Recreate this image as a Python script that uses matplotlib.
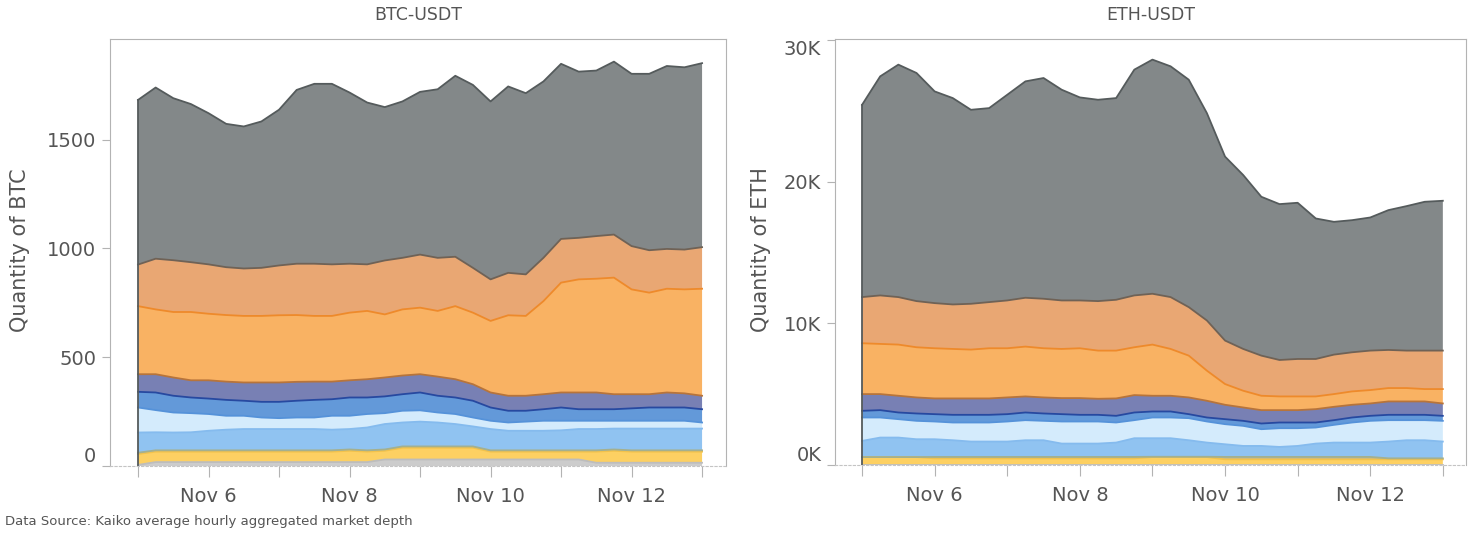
import matplotlib
matplotlib.use('Agg')
import matplotlib.pyplot as plt
import numpy as np
import pandas as pd

# hourly depth sampled every 6h, Nov 5 00:00 -> Nov 13 00:00
hours = np.arange(0, 193, 6)
start = pd.Timestamp('2022-11-05')
times = start + pd.to_timedelta(hours, unit='h')

# BTC-USDT: stacked boundaries, bottom layer first
btc_b1 = [5, 18, 18, 18, 18, 18, 18, 18, 18, 18, 18, 18, 18, 18, 30, 30, 30,
          30, 30, 30, 30, 30, 30, 30, 30, 30, 15, 15, 15, 15, 15, 15, 15]
btc_b2 = [55, 66, 66, 66, 66, 66, 66, 66, 66, 66, 66, 66, 70, 66, 70, 84, 84,
          84, 84, 84, 66, 66, 66, 66, 66, 66, 66, 70, 66, 66, 66, 66, 66]
btc_b3 = [61, 72, 72, 72, 72, 72, 72, 72, 72, 72, 72, 72, 76, 72, 76, 90, 90,
          90, 90, 90, 72, 72, 72, 72, 72, 72, 72, 76, 72, 72, 72, 72, 72]
btc_b4 = [154, 155, 154, 155, 162, 167, 170, 170, 170, 170, 170, 167, 170, 177, 193, 200, 204,
          200, 193, 182, 170, 162, 162, 162, 164, 170, 170, 172, 172, 172, 172, 172, 172]
btc_b5 = [269, 257, 246, 243, 239, 231, 231, 223, 220, 223, 223, 231, 231, 239, 243, 254, 256,
          246, 239, 223, 208, 200, 204, 208, 208, 208, 208, 208, 208, 208, 208, 208, 200]
btc_b6 = [341, 338, 323, 315, 310, 304, 300, 295, 295, 300, 304, 307, 315, 315, 320, 330, 338,
          323, 315, 300, 269, 254, 254, 261, 269, 261, 261, 261, 265, 269, 269, 269, 261]
btc_b7 = [422, 422, 407, 394, 394, 388, 384, 384, 384, 387, 388, 388, 394, 399, 407, 416, 422,
          411, 399, 376, 338, 323, 323, 330, 338, 338, 338, 330, 330, 330, 338, 334, 323]
btc_b8 = [735, 720, 708, 708, 700, 694, 690, 690, 693, 694, 690, 690, 705, 713, 697, 720, 728,
          713, 735, 705, 667, 693, 690, 758, 843, 858, 861, 866, 812, 797, 815, 812, 815]
btc_b9 = [926, 953, 946, 937, 927, 914, 908, 911, 922, 930, 930, 927, 930, 927, 945, 957, 972,
          957, 962, 911, 858, 888, 881, 957, 1044, 1049, 1057, 1064, 1011, 992, 998, 995, 1006]
btc_b10 = [1683, 1740, 1691, 1664, 1622, 1573, 1561, 1584, 1638, 1729, 1757, 1757, 1717, 1671, 1650, 1676, 1720,
           1732, 1794, 1752, 1676, 1745, 1714, 1768, 1849, 1813, 1818, 1859, 1803, 1803, 1839, 1833, 1852]

# ETH-USDT
eth_b1 = [20] * 33
eth_b2 = [560, 560, 560, 560, 470, 470, 470, 470, 470, 470, 470, 470, 470, 470, 470, 470, 560,
          560, 560, 560, 400, 400, 400, 400, 400, 400, 400, 400, 400, 400, 400, 400, 400]
eth_b3 = [560, 560, 560, 560, 570, 570, 570, 570, 570, 570, 570, 570, 570, 570, 570, 570, 580,
          580, 580, 580, 570, 570, 570, 570, 570, 570, 570, 570, 570, 470, 470, 470, 470]
eth_b4 = [1702, 1938, 1938, 1820, 1820, 1749, 1655, 1655, 1655, 1749, 1749, 1513, 1513, 1513, 1584, 1891,
          1891, 1891, 1749, 1584, 1465, 1347, 1347, 1276, 1347, 1513, 1584, 1584, 1584, 1655, 1749, 1749, 1655]
eth_b5 = [3356, 3356, 3238, 3120, 3073, 3002, 3002, 3002, 3073, 3167, 3120, 3073, 3073, 3073, 3002, 3167,
          3356, 3356, 3309, 3073, 2884, 2765, 2529, 2600, 2600, 2647, 2836, 3002, 3120, 3167, 3167, 3167, 3120]
eth_b6 = [3829, 3876, 3710, 3640, 3592, 3545, 3545, 3545, 3592, 3710, 3640, 3592, 3545, 3545, 3474, 3710,
          3781, 3781, 3592, 3356, 3238, 3120, 2931, 3002, 3002, 3002, 3167, 3356, 3474, 3545, 3545, 3545, 3474]
eth_b7 = [5010, 5010, 4892, 4774, 4703, 4703, 4703, 4703, 4774, 4845, 4774, 4727, 4727, 4679, 4703, 4939,
          4892, 4892, 4774, 4538, 4254, 4065, 3876, 3876, 3876, 3947, 4112, 4254, 4348, 4490, 4490, 4490, 4348]
eth_b8 = [8603, 8555, 8508, 8319, 8248, 8200, 8154, 8248, 8248, 8366, 8248, 8200, 8248, 8083, 8083, 8319,
          8508, 8200, 7728, 6665, 5720, 5247, 4892, 4845, 4845, 4845, 5010, 5200, 5294, 5436, 5436, 5365, 5365]
eth_b9 = [11864, 11982, 11864, 11580, 11438, 11344, 11391, 11509, 11627, 11817, 11746, 11627, 11627, 11580, 11675, 11982,
          12100, 11864, 11155, 10210, 8792, 8200, 7728, 7420, 7491, 7491, 7799, 7964, 8083, 8130, 8083, 8083, 8083]
eth_b10 = [25450, 27462, 28289, 27700, 26398, 25926, 25099, 25217, 26162, 27107, 27344, 26517, 25973, 25808, 25926, 27935,
           28644, 28170, 27226, 24863, 21790, 20490, 18952, 18434, 18528, 17419, 17182, 17300, 17489, 18009, 18292, 18599, 18670]

fill_colors = ['#cccccc', '#fdd062', '#b4b8a6', '#90c3f1', '#d4ebfc',
               '#6399d9', '#7880b4', '#f9b263', '#e9a773', '#838889']
edge_colors = ['#bdbdbd', '#f2c24c', '#a4b08f', '#85bbee', '#5592d9',
               '#2749a0', '#b7743b', '#ee8a2b', '#6f6256', '#555b5c']

day_ticks = pd.date_range('2022-11-05', '2022-11-13', freq='D')
day_labels = ['' if d.day % 2 else d.strftime('%b ') + str(d.day) for d in day_ticks]

TXT = '#555555'
AX = '#b3b3b3'

fig = plt.figure(figsize=(14.73, 5.33), dpi=100)
ax1 = fig.add_axes([0.0747, 0.1257, 0.4182, 0.8011])
ax2 = fig.add_axes([0.5669, 0.1276, 0.4284, 0.7992])


def draw(ax, bounds, title, ylabel, yticks, ylabels, ylim, pad_lo, pad_hi, ylab_x):
    b = np.vstack([np.zeros(len(hours))] + [np.asarray(v, float) for v in bounds])
    depth = np.diff(b, axis=0)
    ax.stackplot(times, depth, colors=fill_colors, linewidth=0)
    tops = np.cumsum(depth, axis=0)
    for top, ec in zip(tops, edge_colors):
        ax.plot(times, top, color=ec, lw=1.3)
    ax.plot([times[0], times[0]], [0, tops[-1][0]], color=edge_colors[-1], lw=1.3)

    ax.set_xlim(start - pd.Timedelta(days=pad_lo), start + pd.Timedelta(days=pad_hi))
    ax.set_ylim(0, ylim)
    ax.set_xticks(day_ticks)
    ax.set_xticklabels(day_labels)
    ax.set_yticks(yticks)
    ax.set_yticklabels(ylabels)
    lbls = ax.get_yticklabels()
    lbls[0].set_va('bottom')
    if yticks[-1] >= ylim * 0.99:
        lbls[-1].set_va('top')

    for s in ['left', 'top', 'right']:
        ax.spines[s].set_color(AX)
    ax.spines['bottom'].set_color('#c4c4c4')
    ax.spines['bottom'].set_linestyle((0, (2, 2)))
    ax.tick_params(axis='x', length=8, color=AX, labelsize=14, labelcolor=TXT, pad=7)
    ax.tick_params(axis='y', length=6, color=AX, labelsize=14, labelcolor=TXT, pad=4)

    ax.set_ylabel(ylabel, fontsize=15, color=TXT)
    ax.yaxis.set_label_coords(ylab_x, 0.506)
    ax.text(0.5, 1.056, title, transform=ax.transAxes, ha='center', va='center',
            fontsize=12.5, color=TXT)


draw(ax1, [btc_b1, btc_b2, btc_b3, btc_b4, btc_b5, btc_b6, btc_b7, btc_b8, btc_b9, btc_b10],
     'BTC-USDT', 'Quantity of BTC', [0, 500, 1000, 1500], ['0', '500', '1000', '1500'],
     1963, 0.397, 8.34, -0.13)
draw(ax2, [eth_b1, eth_b2, eth_b3, eth_b4, eth_b5, eth_b6, eth_b7, eth_b8, eth_b9, eth_b10],
     'ETH-USDT', 'Quantity of ETH', [0, 10000, 20000, 30000], ['0K', '10K', '20K', '30K'],
     30100, 0.372, 8.32, -0.101)

fig.text(5 / 1473, 1 - 521 / 533, 'Data Source: Kaiko average hourly aggregated market depth',
         fontsize=9.5, color=TXT, ha='left', va='center')

fig.savefig('out.png', dpi=100)
